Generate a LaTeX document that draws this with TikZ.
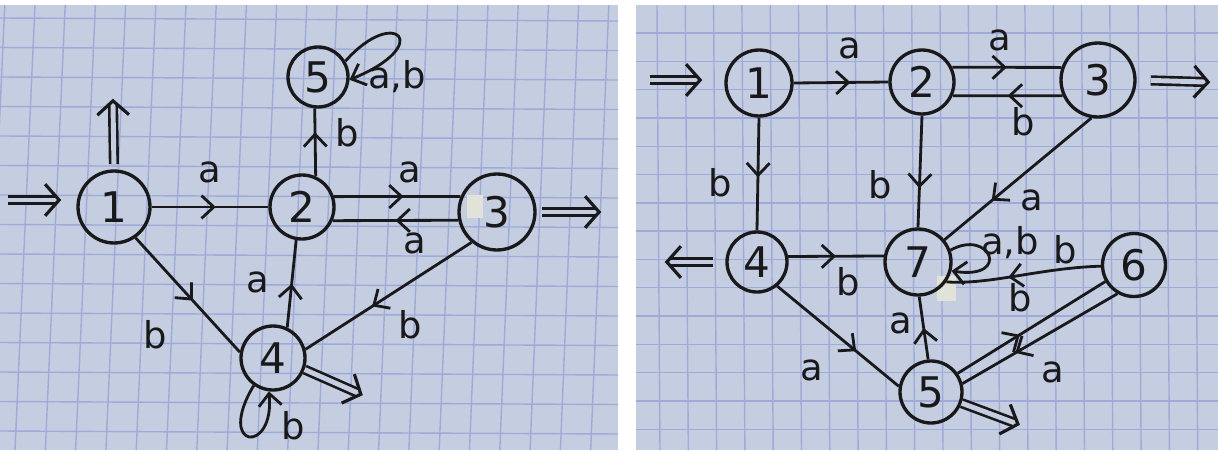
\documentclass[tikz,border=0pt]{standalone}
\usepackage{fontspec}
\setmainfont{DejaVu Sans}
\usetikzlibrary{arrows.meta,decorations.markings}
\definecolor{paper}{RGB}{197,205,224}
\definecolor{gridc}{RGB}{160,170,216}
\definecolor{ink}{RGB}{25,25,28}
\definecolor{patch}{RGB}{226,227,216}
\tikzset{
  st/.style={circle, draw=ink, line width=1.9pt, inner sep=0pt, text=ink, font=\fontsize{24}{24}\selectfont},
  lbl/.style={text=ink, inner sep=0pt, font=\fontsize{21}{21}\selectfont},
  tr/.style={draw=ink, line width=1.6pt, postaction={decorate},
    decoration={markings, mark=at position #1 with {\arrow[ink, line width=1.6pt]{Straight Barb[length=7pt,width=13pt]}}}},
  tr/.default=0.5,
  loopa/.style={draw=ink, line width=1.6pt, -{Straight Barb[length=7pt,width=13pt]}},
  impl/.style={draw=ink, double=paper, double distance=2.8pt, line width=1.5pt, postaction={decorate},
    decoration={markings, mark=at position 1 with {\arrow[ink, line width=1.8pt, xshift=3pt]{Straight Barb[length=8pt,width=18pt]}}}},
  gridl/.style={draw=gridc, line width=0.8pt},
}
\begin{document}
\begin{tikzpicture}[x=0.02cm, y=-0.02cm]
\useasboundingbox (0,0) rectangle (1218,450);
% photos
\fill[paper] (0,5) rectangle (618,450);
\fill[paper] (636,5) rectangle (1218,450);
\begin{scope}
  \clip (0,5) rectangle (618,450);
  \foreach \k in {-1,...,20} \draw[gridl] ({35+30.2*\k},5) -- ({15+30.3*\k},450);
  \foreach \k in {-1,...,15} \draw[gridl] (0,{18+29.5*\k}) -- (618,{21+29.5*\k});
\end{scope}
\begin{scope}
  \clip (636,5) rectangle (1218,450);
  \foreach \k in {-1,...,21} \draw[gridl] ({657+28.3*\k},5) -- ({660+28.3*\k},450);
  \foreach \k in {-1,...,15} \draw[gridl] (636,{33+28.3*\k}) -- (1218,{33+28.3*\k});
\end{scope}
\fill[patch] (467,195) rectangle (483,218);
\fill[patch] (937,276) rectangle (956,301);

% ---------- left automaton ----------
\node[st, minimum size=1.44cm] (L1) at (114,207) {1};
\node[st, minimum size=1.28cm] (L2) at (302,207) {2};
\node[st, minimum size=1.2cm]  (L5) at (318,77) {5};
\node[st, minimum size=1.52cm] (L3) at (497,212) {3};
\node[st, minimum size=1.28cm] (L4) at (273,358) {4};

\draw[tr=0.55] (L1.east) -- (L2.west);
\node[lbl] (La12) at (210,172) {a};
\draw[tr=0.55] (L2.18) -- (L3.157);
\node[lbl] (La23) at (410,172) {a};
\draw[tr=0.5] (L3.192) -- (L2.-24);
\node[lbl] (La32) at (415,243) {a};
\draw[tr=0.65] (L2.66) -- (L5.264);
\node[lbl] (Lb25) at (347,133) {b};
\draw[loopa] (L5.30) .. controls (395,5) and (435,45) .. (L5.-5);
\node[lbl] (Lab5) at (397,77) {a,b};
\draw[tr=0.55] (L1.-55) -- (L4.170);
\node[lbl] (Lb14) at (155,335) {b};
\draw[tr=0.5] (L4.65) -- (L2.-100);
\node[lbl] (La42) at (258,282) {a};
\draw[tr=0.6] (L3.-130) -- (L4.15);
\node[lbl] (Lb34) at (410,325) {b};
\draw[loopa] (L4.235) .. controls (215,450) and (275,455) .. (L4.263);
\node[lbl] (Lb44) at (293,426) {b};

\coordinate (Lin) at (8,200);
\coordinate (Lint) at (56,200);
\draw[impl] (Lin) -- (Lint);
\coordinate (Lup) at (113,104);
\draw[impl, shorten <=3pt] (L1.north) -- (Lup);
\coordinate (L3f) at (596,212);
\draw[impl, shorten <=3pt] (L3.east) -- (L3f);
\coordinate (L4f) at (358,393);
\draw[impl] (L4.-20) -- (L4f);

% ---------- right automaton ----------
\node[st, minimum size=1.32cm] (R1) at (759,83) {1};
\node[st, minimum size=1.28cm] (R2) at (922,82) {2};
\node[st, minimum size=1.48cm] (R3) at (1098,80) {3};
\node[st, minimum size=1.2cm]  (R4) at (757,262) {4};
\node[st, minimum size=1.32cm] (R7) at (918,262) {7};
\node[st, minimum size=1.26cm] (R6) at (1134,265) {6};
\node[st, minimum size=1.24cm] (R5) at (931,392) {5};

\coordinate (Rin) at (650,80);
\coordinate (Rint) at (697,80);
\draw[impl] (Rin) -- (Rint);
\draw[tr=0.6] (R1.east) -- (R2.west);
\node[lbl] (Ra12) at (850,48) {a};
\draw[tr=0.5] (R2.26) -- (R3.161);
\node[lbl] (Ra23) at (1000,40) {a};
\draw[tr=0.5] (R3.204) -- (R2.-24);
\node[lbl] (Rb32) at (1023,122) {b};
\coordinate (R3f) at (1205,82);
\draw[impl, shorten <=8pt] (R3.east) -- (R3f);
\draw[tr=0.53] (R1.south) -- (R4.north);
\node[lbl] (Rb14) at (720,183) {b};
\draw[tr=0.65] (R2.south) -- (R7.north);
\node[lbl] (Rb27) at (880,185) {b};
\draw[tr=0.68] (R3.-100) -- (R7.40);
\node[lbl] (Ra37) at (1032,200) {a};
\coordinate (R4f) at (670,262);
\draw[impl, shorten <=7pt] (R4.west) -- (R4f);
\draw[tr=0.5] (R4.10) -- (R7.170);
\node[lbl] (Rb47) at (848,282) {b};
\draw[loopa] (R7.20) .. controls (990,228) and (1012,280) .. (R7.-15);
\node[lbl] (Rab7) at (1010,243) {a,b};
\draw[tr=0.6] (R6.182) .. controls (1040,268) and (990,285) .. (R7.-35);
\node[lbl] (Rb67) at (1065,250) {b};
\draw[tr=0.5] (R5.95) -- (R7.-88);
\node[lbl] (Ra57) at (901,323) {a};
\draw[tr=0.65] (R4.-50) -- (R5.170);
\node[lbl] (Ra45) at (812,370) {a};
\draw[tr=0.42] (R5.35) -- (R6.-150);
\node[lbl] (Rb56) at (1020,298) {b};
\draw[tr=0.66] (R6.-120) -- (R5.15);
\node[lbl] (Ra65) at (1053,372) {a};
\coordinate (R5f) at (1015,423);
\draw[impl] (R5.-20) -- (R5f);
\end{tikzpicture}
\end{document}
